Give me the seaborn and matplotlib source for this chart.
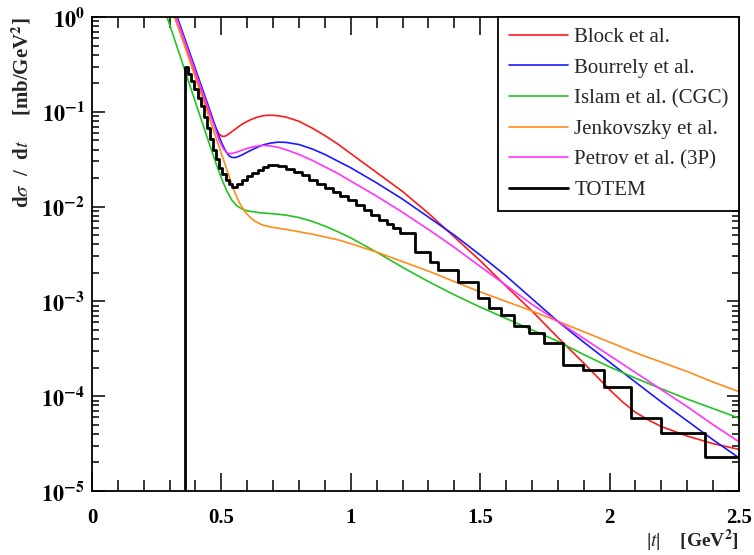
"""Elastic pp dsigma/dt at 7 TeV: TOTEM data vs model predictions."""

import numpy as np
import pandas as pd
import matplotlib
matplotlib.use("Agg")
import matplotlib.pyplot as plt
import seaborn as sns
from matplotlib.lines import Line2D
from matplotlib.ticker import MultipleLocator, LogLocator, NullFormatter, FixedLocator

# ---- model curves (|t| in GeV^2, dsigma/dt in mb/GeV^2) ----
t_block = [0.30, 0.35, 0.40, 0.43, 0.45, 0.47, 0.48, 0.49, 0.50, 0.51, 0.52, 0.54, 0.56, 0.58,
           0.60, 0.62, 0.64, 0.66, 0.68, 0.70, 0.72, 0.75, 0.80, 0.85, 0.90, 0.95, 1.00, 1.05,
           1.10, 1.15, 1.20, 1.30, 1.40, 1.50, 1.60, 1.70, 1.80, 1.90, 2.00, 2.05, 2.10, 2.15,
           2.20, 2.30, 2.40, 2.50]
y_block = [1.41, 0.589, 0.245, 0.1445, 0.102, 0.0759, 0.0661, 0.0589, 0.0556, 0.0550, 0.0562,
           0.0617, 0.0676, 0.0741, 0.0794, 0.0841, 0.0881, 0.0908, 0.0920, 0.0918, 0.0908,
           0.0881, 0.0794, 0.0676, 0.0562, 0.0457, 0.0363, 0.0288, 0.0229, 0.0182, 0.01445,
           0.00851, 0.00479, 0.00269, 0.00145, 0.000794, 0.000417, 0.000224, 0.0001175,
           8.71e-5, 6.76e-5, 5.62e-5, 4.79e-5, 3.80e-5, 3.16e-5, 2.75e-5]

t_bourrely = [0.30, 0.35, 0.40, 0.45, 0.47, 0.49, 0.50, 0.51, 0.52, 0.53, 0.54, 0.55, 0.56, 0.58,
              0.60, 0.63, 0.66, 0.69, 0.72, 0.75, 0.80, 0.85, 0.90, 0.95, 1.00, 1.10, 1.20,
              1.30, 1.40, 1.50, 1.60, 1.70, 1.80, 1.90, 2.00, 2.10, 2.20, 2.30, 2.40, 2.50]
y_bourrely = [1.70, 0.692, 0.282, 0.115, 0.0794, 0.0562, 0.0479, 0.0417, 0.0372, 0.0343,
              0.0331, 0.0329, 0.0333, 0.0351, 0.0376, 0.0412, 0.0447, 0.0468, 0.0479, 0.0476,
              0.0452, 0.0407, 0.0355, 0.0302, 0.0257, 0.0178, 0.0120, 0.00776, 0.00501,
              0.00309, 0.00186, 0.00107, 0.000617, 0.000372, 0.000229, 0.000141, 8.71e-5,
              5.50e-5, 3.47e-5, 2.24e-5]

t_islam = [0.28, 0.30, 0.35, 0.40, 0.45, 0.48, 0.50, 0.52, 0.54, 0.56, 0.58, 0.60, 0.65, 0.70,
           0.75, 0.80, 0.85, 0.90, 0.95, 1.00, 1.10, 1.20, 1.30, 1.40, 1.50, 1.60, 1.70, 1.80,
           1.90, 2.00, 2.10, 2.20, 2.30, 2.40, 2.50]
y_islam = [1.20, 0.832, 0.324, 0.126, 0.049, 0.0282, 0.0200, 0.0148, 0.01175, 0.0102, 0.00944,
           0.00902, 0.00861, 0.00841, 0.00813, 0.00767, 0.0070, 0.00624, 0.00543, 0.00468,
           0.00331, 0.00229, 0.00162, 0.001175, 0.000871, 0.000661, 0.000501, 0.000380,
           0.000275, 0.000204, 0.000155, 0.000120, 9.33e-5, 7.41e-5, 5.89e-5]

t_jenk = [0.30, 0.35, 0.40, 0.45, 0.50, 0.53, 0.55, 0.57, 0.59, 0.61, 0.63, 0.66, 0.70, 0.75,
          0.80, 0.85, 0.90, 0.95, 1.00, 1.10, 1.20, 1.30, 1.40, 1.50, 1.60, 1.70, 1.80, 1.90,
          2.00, 2.10, 2.20, 2.30, 2.40, 2.50]
y_jenk = [1.445, 0.575, 0.229, 0.0912, 0.0363, 0.0209, 0.01445, 0.01096, 0.00891, 0.00776,
          0.0070, 0.00638, 0.00603, 0.00575, 0.00543, 0.00513, 0.00479, 0.00447, 0.00407,
          0.00331, 0.00263, 0.00209, 0.00162, 0.00126, 0.00100, 0.000794, 0.000617,
          0.000479, 0.000372, 0.000288, 0.000229, 0.000182, 0.000141, 0.000112]

t_petrov = [0.30, 0.35, 0.40, 0.45, 0.47, 0.49, 0.50, 0.51, 0.52, 0.53, 0.54, 0.56, 0.58, 0.60,
            0.63, 0.66, 0.69, 0.72, 0.75, 0.80, 0.85, 0.90, 0.95, 1.00, 1.10, 1.20, 1.30,
            1.40, 1.50, 1.60, 1.70, 1.80, 1.90, 2.00, 2.10, 2.20, 2.30, 2.40, 2.50]
y_petrov = [1.58, 0.646, 0.263, 0.107, 0.0741, 0.0513, 0.0447, 0.0398, 0.0372, 0.0363, 0.0363,
            0.0376, 0.0394, 0.0412, 0.0432, 0.0442, 0.0437, 0.0422, 0.0398, 0.0355, 0.0309,
            0.0263, 0.0224, 0.0186, 0.0129, 0.00871, 0.00575, 0.00372, 0.00234, 0.00148,
            0.000933, 0.000617, 0.000407, 0.000269, 0.000178, 0.0001175, 7.76e-5, 5.01e-5,
            3.31e-5]

# ---- TOTEM histogram (bin edges and contents) ----
totem_edges = [0.360, 0.372, 0.384, 0.396, 0.408, 0.420, 0.432, 0.444, 0.456, 0.468, 0.480,
               0.492, 0.504, 0.516, 0.528, 0.540, 0.560, 0.580, 0.600, 0.620, 0.640, 0.660,
               0.680, 0.700, 0.720, 0.750, 0.780, 0.810, 0.840, 0.870, 0.900, 0.930, 0.960,
               0.990, 1.020, 1.050, 1.080, 1.110, 1.140, 1.165, 1.192, 1.250, 1.308, 1.339,
               1.413, 1.490, 1.533, 1.579, 1.629, 1.687, 1.745, 1.819, 1.896, 1.978, 2.082,
               2.198, 2.368, 2.500]
totem_vals = [0.295, 0.251, 0.209, 0.174, 0.141, 0.115, 0.0891, 0.0676, 0.0513, 0.0398, 0.0316,
              0.0257, 0.0219, 0.0191, 0.0174, 0.0162, 0.0174, 0.0191, 0.0209, 0.0226, 0.0245,
              0.0260, 0.0272, 0.0275, 0.0269, 0.0251, 0.0234, 0.0214, 0.0191, 0.0174, 0.0158,
              0.0141, 0.0129, 0.0117, 0.0105, 0.0093, 0.0081, 0.0072, 0.0065, 0.0059, 5.27e-3,
              3.32e-3, 2.61e-3, 2.14e-3, 1.60e-3, 1.09e-3, 8.5e-4, 7.2e-4, 5.5e-4, 4.6e-4,
              3.6e-4, 2.13e-4, 1.89e-4, 1.25e-4, 5.9e-5, 4.1e-5, 2.29e-5]

model_names = ["Block et al.", "Bourrely et al.", "Islam et al. (CGC)",
               "Jenkovszky et al.", "Petrov et al. (3P)"]
model_colors = ["#ff1a1a", "#1a1aff", "#22c422", "#ff8c1a", "#ff33ff"]
x_ticks = [0, 0.5, 1, 1.5, 2, 2.5]
x_ticklabels = ["0", "0.5", "1", "1.5", "2", "2.5"]
y_ticks = [1e-5, 1e-4, 1e-3, 1e-2, 1e-1, 1]
y_ticklabels = [r"$\mathbf{10^{-5}}$", r"$\mathbf{10^{-4}}$", r"$\mathbf{10^{-3}}$",
                r"$\mathbf{10^{-2}}$", r"$\mathbf{10^{-1}}$", r"$\mathbf{10^{0}}$"]

sns.set_theme(style="ticks")
plt.rcParams["font.family"] = ["Liberation Serif", "DejaVu Serif"]
plt.rcParams["mathtext.fontset"] = "stix"

frames = []
for name, tt, yy in zip(model_names,
                        [t_block, t_bourrely, t_islam, t_jenk, t_petrov],
                        [y_block, y_bourrely, y_islam, y_jenk, y_petrov]):
    frames.append(pd.DataFrame({"t": tt, "dsdt": yy, "model": name}))
df = pd.concat(frames, ignore_index=True)

fig = plt.figure(figsize=(7.54, 5.55), dpi=100)
ax = fig.add_axes([0.122, 0.1153, 0.858, 0.854])
ax.set_yscale("log")

sns.lineplot(data=df, x="t", y="dsdt", hue="model", hue_order=model_names,
             palette=model_colors, estimator=None, sort=False, linewidth=1.2,
             legend=False, ax=ax)

ax.set_xlim(0, 2.5)
ax.set_ylim(1e-5, 1)

centers = [(a + b) / 2 for a, b in zip(totem_edges[:-1], totem_edges[1:])]
sns.histplot(x=centers, weights=totem_vals, bins=totem_edges, element="step",
             fill=False, color="black", linewidth=2.0, ax=ax)
# left edge of the histogram drops to the frame
ax.vlines(totem_edges[0], ax.get_ylim()[0], totem_vals[0], color="black", linewidth=2.0)

ax.set_xlim(0, 2.5)
ax.set_ylim(1e-5, 1)

ax.xaxis.set_major_locator(FixedLocator(x_ticks))
ax.set_xticklabels(x_ticklabels)
ax.xaxis.set_minor_locator(MultipleLocator(0.1))
ax.yaxis.set_major_locator(FixedLocator(y_ticks))
ax.set_yticklabels(y_ticklabels)
ax.yaxis.set_minor_locator(LogLocator(base=10, subs=np.arange(2, 10), numticks=20))
ax.yaxis.set_minor_formatter(NullFormatter())

ax.tick_params(axis="both", which="both", direction="in", top=True, right=True,
               colors="black", width=1.1)
ax.tick_params(axis="x", which="major", length=13, pad=12, labelsize=15)
ax.tick_params(axis="x", which="minor", length=8)
ax.tick_params(axis="y", which="major", length=9, pad=5, labelsize=16)
ax.tick_params(axis="y", which="minor", length=5)
for lab in ax.get_xticklabels():
    lab.set_fontweight("bold")

for sp in ax.spines.values():
    sp.set_linewidth(1.3)
    sp.set_color("black")

ax.set_xlabel(r"|$t$|    [GeV$^{\mathbf{2}}$]", loc="right", fontsize=14,
              fontweight="bold", labelpad=0)
ax.set_ylabel(r"d$\sigma$  /  d$t$     [mb/GeV$^{\mathbf{2}}$]", loc="top",
              fontsize=15, fontweight="bold", labelpad=6)

handles = list(ax.lines[:len(model_names)])
handles.append(Line2D([], [], color="black", linewidth=2.0))
labels = model_names + ["TOTEM"]
leg = ax.legend(handles, labels, loc="upper right", bbox_to_anchor=(1.0, 1.0),
                borderaxespad=0, fancybox=False, framealpha=1, edgecolor="black",
                fontsize=15, handlelength=2.85, handletextpad=0.3, labelspacing=0.53,
                borderpad=0.5)
leg.get_frame().set_linewidth(1.3)

fig.savefig("out.png", dpi=100)
